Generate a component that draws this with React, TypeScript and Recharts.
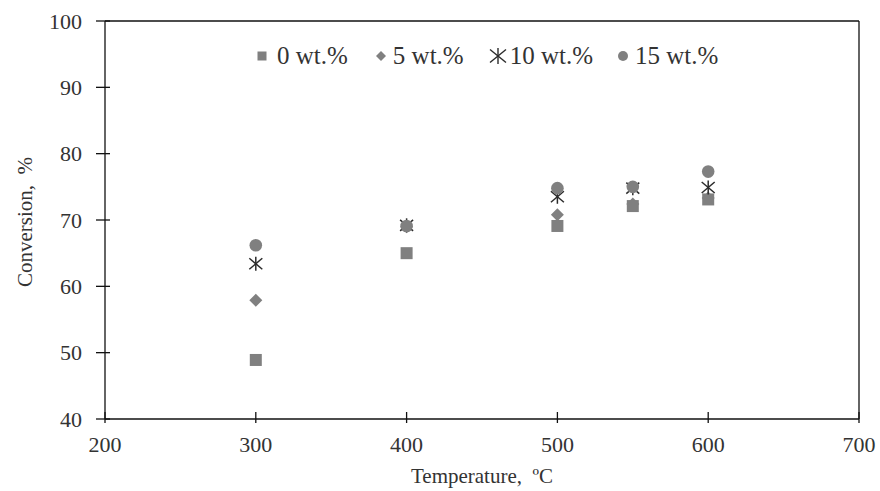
import React from "react";
import { ScatterChart, Scatter, XAxis, YAxis, ReferenceLine, Legend, Label } from "recharts";

const temperatures = [300, 400, 500, 550, 600];
const conv0 = [48.9, 65.0, 69.1, 72.1, 73.1];
const conv5 = [57.9, 69.0, 70.8, 72.4, 73.3];
const conv10 = [63.4, 69.2, 73.5, 74.8, 74.9];
const conv15 = [66.2, 69.1, 74.8, 75.0, 77.3];
const xTicks = [200, 300, 400, 500, 600, 700];
const yTicks = [40, 50, 60, 70, 80, 90, 100];
const seriesNames = ["0 wt.%", "5 wt.%", "10 wt.%", "15 wt.%"];

const toPoints = (vals: number[]) => temperatures.map((t, i) => ({ x: t, y: vals[i] }));
const d0 = toPoints(conv0);
const d5 = toPoints(conv5);
const d10 = toPoints(conv10);
const d15 = toPoints(conv15);

const GRAY = "#808080";
const DARK = "#2b2b2b";
const AX = "#111";
const FONT = "'Liberation Serif', 'Times New Roman', serif";
const TXT = "#333";

const SquareShape = (p: any) => <rect x={p.cx - 6} y={p.cy - 6} width={12} height={12} fill={GRAY} />;
const DiamondShape = (p: any) => (
  <polygon points={`${p.cx},${p.cy - 6.5} ${p.cx + 6.5},${p.cy} ${p.cx},${p.cy + 6.5} ${p.cx - 6.5},${p.cy}`} fill={GRAY} />
);
const StarShape = (p: any) => (
  <g stroke={DARK} strokeWidth={1.5}>
    <line x1={p.cx} y1={p.cy - 7} x2={p.cx} y2={p.cy + 7} />
    <line x1={p.cx - 6.5} y1={p.cy - 5.5} x2={p.cx + 6.5} y2={p.cy + 5.5} />
    <line x1={p.cx - 6.5} y1={p.cy + 5.5} x2={p.cx + 6.5} y2={p.cy - 5.5} />
  </g>
);
const CircleShape = (p: any) => <circle cx={p.cx} cy={p.cy} r={6.3} fill={GRAY} />;

const Y_TS = 9, Y_TM = 14;
const X_TS = 4, X_TM = 13;

const YTick = (p: any) => {
  const ax = p.x + Y_TS + Y_TM;
  return (
    <g>
      <line x1={ax} y1={p.y} x2={ax + 5} y2={p.y} stroke={AX} strokeWidth={1.3} />
      <text x={p.x} y={p.y} dy="0.35em" textAnchor="end" fontFamily={FONT} fontSize={22} fill={TXT}>
        {p.payload.value}
      </text>
    </g>
  );
};

const XTick = (p: any) => {
  const ay = p.y - X_TS - X_TM;
  return (
    <g>
      <line x1={p.x} y1={ay - 7} x2={p.x} y2={ay} stroke={AX} strokeWidth={1.3} />
      <text x={p.x} y={p.y} dy="0.71em" textAnchor="middle" fontFamily={FONT} fontSize={22} fill={TXT}>
        {p.payload.value}
      </text>
    </g>
  );
};

const legendIcons = [
  <rect key="s" x={1.5} y={1.5} width={9} height={9} fill={GRAY} />,
  <polygon key="d" points="6,1 11,6 6,11 1,6" fill={GRAY} />,
  <g key="a" stroke={DARK} strokeWidth={1.4}>
    <line x1={9} y1={0} x2={9} y2={16} />
    <line x1={1} y1={1.5} x2={17} y2={14.5} />
    <line x1={1} y1={14.5} x2={17} y2={1.5} />
  </g>,
  <circle key="c" cx={6} cy={6} r={5} fill={GRAY} />,
];
const iconSizes = [12, 12, 18, 12];
const iconGaps = [9, 6, 3, 6];
const itemGaps = [0, 27, 25, 24];

const LegendContent = () => (
  <div style={{ display: "flex", alignItems: "center", fontFamily: FONT, fontSize: 25, color: TXT, lineHeight: "26px", whiteSpace: "nowrap" }}>
    {seriesNames.map((n, i) => (
      <div key={n} style={{ display: "flex", alignItems: "center", marginLeft: itemGaps[i] }}>
        <svg width={iconSizes[i]} height={iconSizes[i] === 18 ? 16 : 12} style={{ marginRight: iconGaps[i] }}>
          {legendIcons[i]}
        </svg>
        <span>{n}</span>
      </div>
    ))}
  </div>
);

export default function App() {
  return (
    <div style={{ position: "absolute", left: 0, top: 0, width: 880, height: 491, background: "#fff" }}>
      <ScatterChart width={880} height={491} margin={{ top: 21, right: 21, bottom: 0, left: 0 }}>
        <XAxis
          type="number"
          dataKey="x"
          domain={[200, 700]}
          ticks={xTicks}
          height={72}
          tickSize={X_TS}
          tickMargin={X_TM}
          tick={<XTick />}
          axisLine={{ stroke: AX, strokeWidth: 1.3 }}
          tickLine={{ stroke: AX, strokeWidth: 1.3 }}
        >
          <Label
            value={"Temperature,\u00a0\u00a0\u00baC"}
            position="insideBottom"
            offset={8}
            style={{ fontFamily: FONT, fontSize: 21, fill: TXT }}
          />
        </XAxis>
        <YAxis
          type="number"
          dataKey="y"
          domain={[40, 100]}
          ticks={yTicks}
          width={105}
          tickSize={Y_TS}
          tickMargin={Y_TM}
          tick={<YTick />}
          axisLine={{ stroke: AX, strokeWidth: 1.3 }}
          tickLine={{ stroke: AX, strokeWidth: 1.3 }}
        >
          <Label
            content={(props: any) => {
              const vb = props.viewBox;
              const cx = vb.x + 32;
              const cy = vb.y + vb.height / 2 + 2;
              return (
                <text
                  x={cx}
                  y={cy}
                  transform={`rotate(-90 ${cx} ${cy})`}
                  textAnchor="middle"
                  fontFamily={FONT}
                  fontSize={21}
                  fill={TXT}
                >
                  {"Conversion,\u00a0\u00a0%"}
                </text>
              );
            }}
          />
        </YAxis>
        <ReferenceLine y={100} stroke={AX} strokeWidth={1.3} ifOverflow="visible" />
        <ReferenceLine x={700} stroke={AX} strokeWidth={1.3} ifOverflow="visible" />
        <Legend
          layout="horizontal"
          verticalAlign="middle"
          align="center"
          content={<LegendContent />}
          wrapperStyle={{ top: 43, left: 256, width: "auto", height: "auto" }}
        />
        <Scatter name={seriesNames[0]} data={d0} shape={<SquareShape />} isAnimationActive={false} />
        <Scatter name={seriesNames[1]} data={d5} shape={<DiamondShape />} isAnimationActive={false} />
        <Scatter name={seriesNames[2]} data={d10} shape={<StarShape />} isAnimationActive={false} />
        <Scatter name={seriesNames[3]} data={d15} shape={<CircleShape />} isAnimationActive={false} />
      </ScatterChart>
    </div>
  );
}
